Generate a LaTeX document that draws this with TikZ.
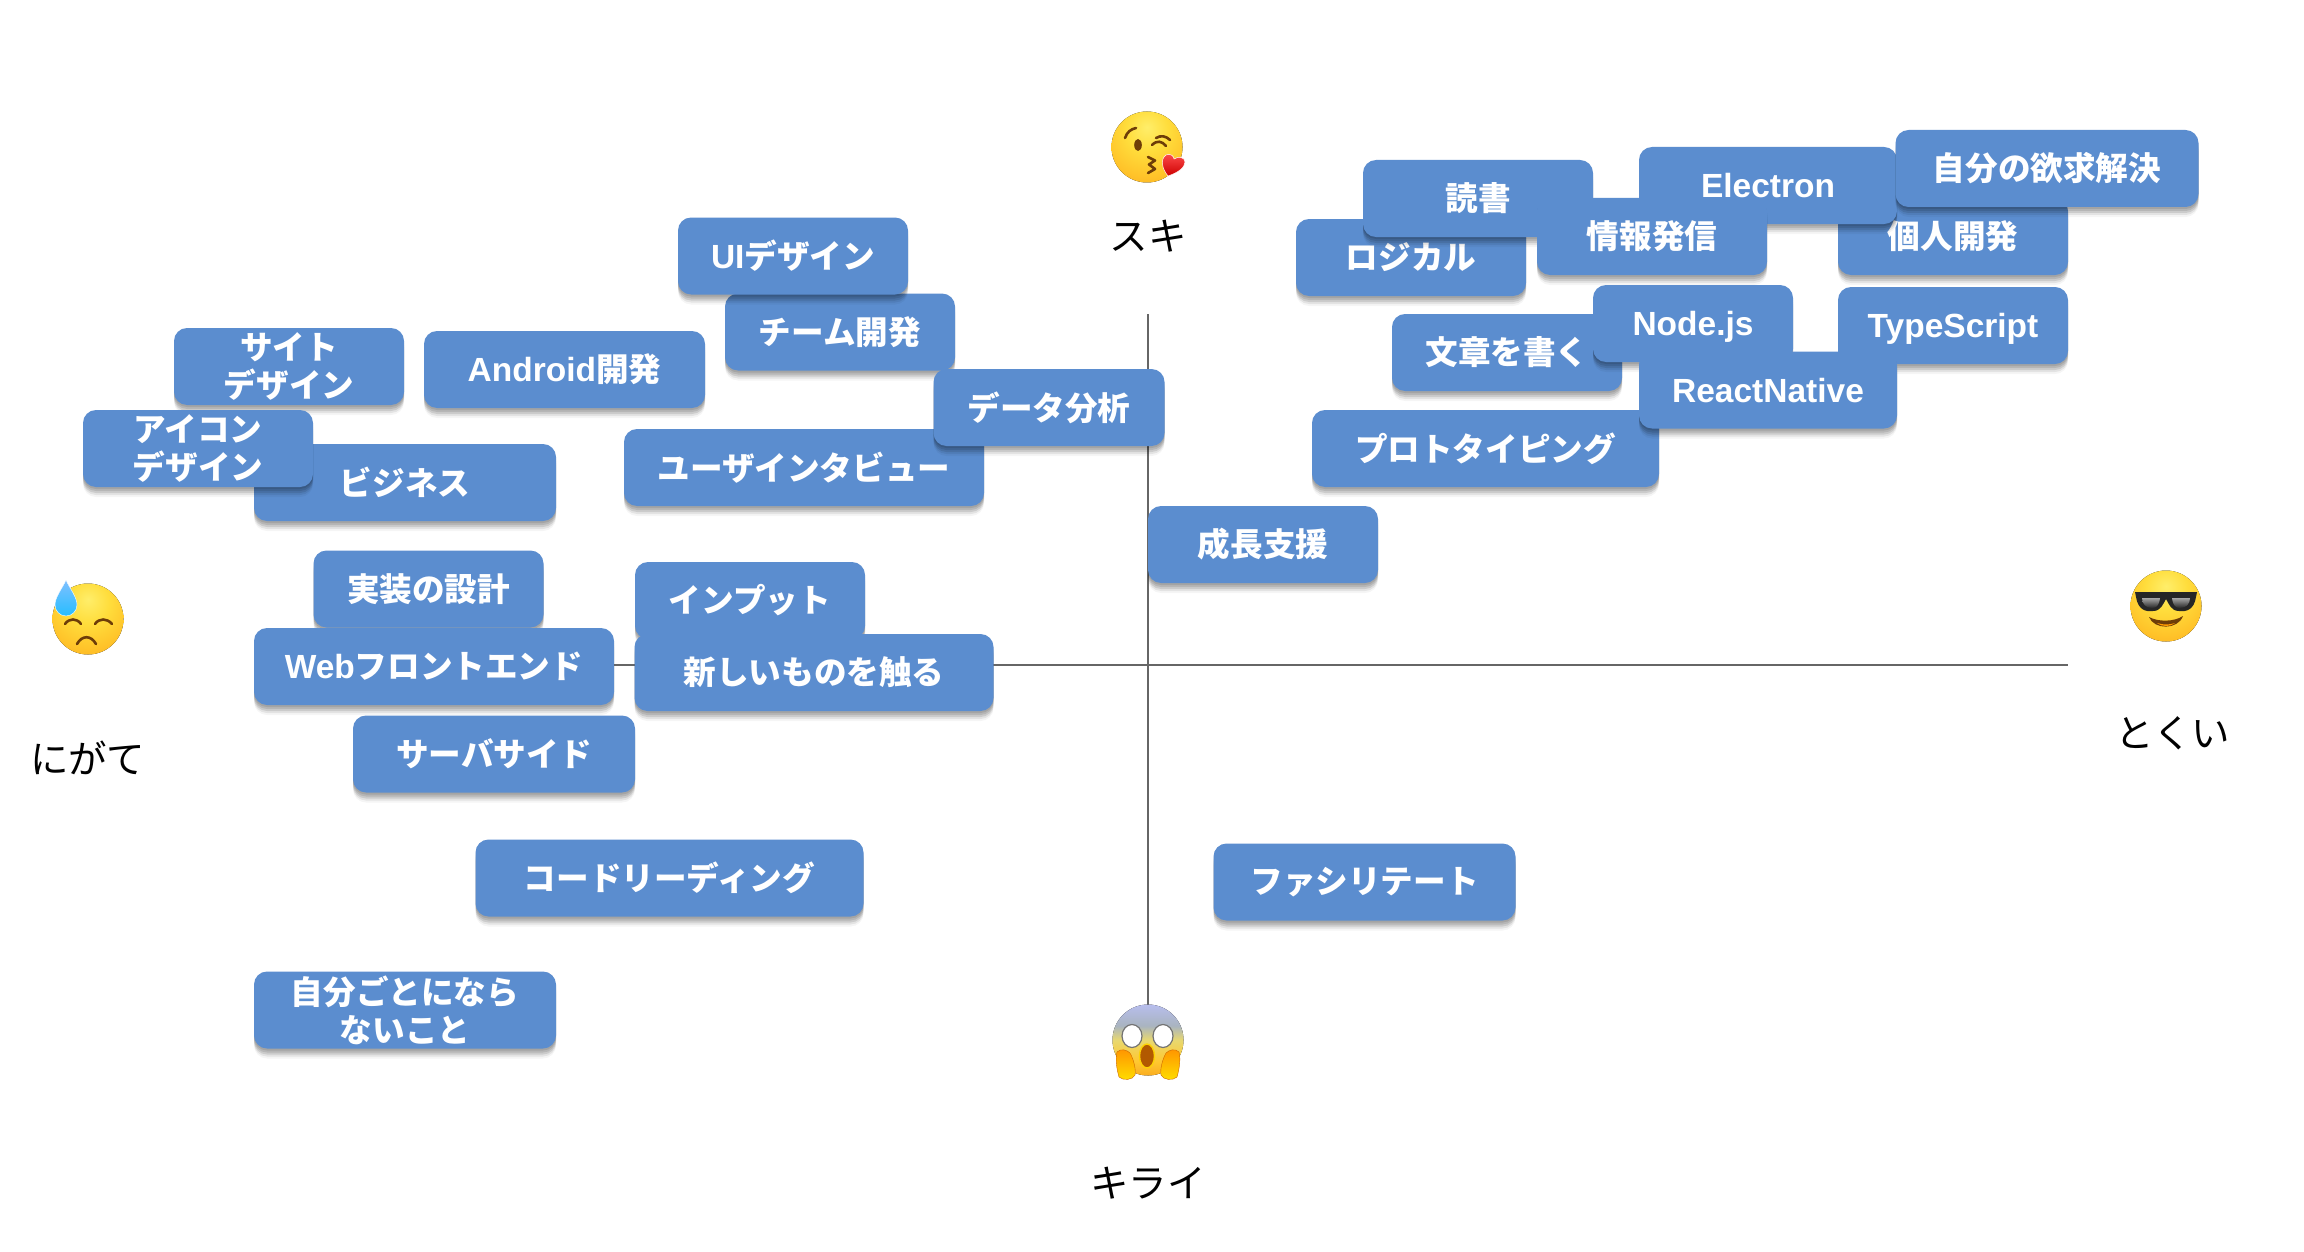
\documentclass[tikz,border=0pt]{standalone}
\usepackage{fontspec}
\usetikzlibrary{shadows}
\newfontfamily\jpfont{Noto Sans CJK JP}
\newfontfamily\latfont{Liberation Sans}
\newcommand{\la}[1]{{\latfont\fontsize{33.5}{38}\selectfont #1}}
\definecolor{cardblue}{HTML}{5B8DCF}
\definecolor{axisgray}{HTML}{666666}
\definecolor{emobrown}{HTML}{6E3D08}
\definecolor{fa}{HTML}{FFEE6A}
\definecolor{fb}{HTML}{FFDD3C}
\definecolor{fc}{HTML}{FFC42A}
\definecolor{fd}{HTML}{FBAE20}
\definecolor{fe}{HTML}{F59A14}
\definecolor{sa}{HTML}{F9A51C}
\definecolor{sb}{HTML}{FFC830}
\definecolor{sc}{HTML}{E8D870}
\definecolor{sd}{HTML}{A9B4C0}
\definecolor{se}{HTML}{B8BEF0}
\definecolor{sf}{HTML}{8FA0F0}
\definecolor{sg}{HTML}{1A6EF0}
\pgfdeclareradialshading{emoface}{\pgfpoint{0bp}{14bp}}{color(0bp)=(fa);color(15bp)=(fb);color(30bp)=(fc);color(42bp)=(fd);color(55bp)=(fe);color(100bp)=(fe)}
\pgfdeclareverticalshading{screamface}{100bp}{color(0bp)=(sa);color(22bp)=(sa);color(35bp)=(sb);color(50bp)=(sc);color(60bp)=(sd);color(76bp)=(se);color(90bp)=(sf);color(96bp)=(sg);color(100bp)=(sg)}
\tikzset{
  card/.style={rectangle,rounded corners=13pt,fill=cardblue,text=white,align=center,
    minimum width=230pt,minimum height=77pt,inner sep=0pt,
    font=\fontsize{32.6}{38}\selectfont\jpfont\bfseries,
    general shadow={shadow xshift=0pt,shadow yshift=-2pt,fill=black,opacity=.10},
    general shadow={shadow xshift=0pt,shadow yshift=-4pt,fill=black,opacity=.10},
    general shadow={shadow xshift=0pt,shadow yshift=-6pt,fill=black,opacity=.10},
    general shadow={shadow xshift=0pt,shadow yshift=-8pt,fill=black,opacity=.07},
    general shadow={shadow xshift=0pt,shadow yshift=-10pt,fill=black,opacity=.04}},
  latcard/.style={card,text height=24pt,text depth=0pt},
  axislabel/.style={text=black,inner sep=0pt,font=\fontsize{38.5}{42}\selectfont\jpfont},
  axisline/.style={draw=axisgray,line width=2.5pt},
  facepart/.style={draw=emobrown,line width=2.6pt,line cap=round,line join=round},
  faceball/.style={shading=emoface,draw=none}
}
\begin{document}
\begin{tikzpicture}[x=1pt,y=-1pt]
\useasboundingbox (0,0) rectangle (2304,1252);
\fill[white] (0,0) rectangle (2304,1252);

% axes
\coordinate (vtop) at (1148,314);
\coordinate (vbot) at (1148,1006);
\coordinate (hleft) at (400,665);
\coordinate (hright) at (2068,665);
\draw[axisline] (vtop) -- (vbot);
\draw[axisline] (hleft) -- (hright);

% emoji: kiss
\begin{scope}[shift={(1147,147)}]
  \fill[faceball] (0,0) circle (35.5);
  \draw[facepart] (-22,-9) .. controls (-20,-15) and (-16,-18) .. (-11,-19);
  \fill[emobrown] (-9,-2) ellipse (3.8 and 6);
  \draw[facepart] (5,-2) .. controls (10,-7) and (15,-6) .. (19,-1);
  \draw[facepart] (9,-9) .. controls (14,-12) and (19,-11) .. (23,-7);
  \draw[facepart] (1,10) -- (8,13.5) -- (2,17.5) -- (8,22) -- (1,26);
  \shade[top color=red!70!white,bottom color=red!80!black,draw=white,line width=.5pt]
    (21,29) .. controls (15,22) and (13,12) .. (19,8)
    .. controls (23,6) and (27,9) .. (27,12)
    .. controls (31,9) and (38,10) .. (38,15)
    .. controls (38,21) and (30,26) .. (21,29) -- cycle;
\end{scope}

% emoji: sunglasses
\begin{scope}[shift={(2166,606)}]
  \fill[faceball] (0,0) circle (35.5);
  \fill[black!85] (-31,-14) -- (31,-14) -- (30,-9)
    .. controls (28,4) and (20,6) .. (13,5)
    .. controls (5,5) and (3,-2) .. (0,-7)
    .. controls (-3,-2) and (-5,5) .. (-13,5)
    .. controls (-20,6) and (-28,4) .. (-30,-9) -- cycle;
  \shade[top color=black!35,bottom color=black!85] (-24,-8) -- (-6,-8) .. controls (-7,0) and (-10,2) .. (-14,2) .. controls (-20,2) and (-24,-2) .. cycle;
  \shade[top color=black!35,bottom color=black!85] (24,-8) -- (6,-8) .. controls (7,0) and (10,2) .. (14,2) .. controls (20,2) and (24,-2) .. cycle;
  \fill[emobrown] (-17,11) .. controls (-8,16) and (8,16) .. (17,10)
    .. controls (12,24) and (-12,24) .. (-17,11) -- cycle;
  \fill[orange!80!yellow] (-9,17) .. controls (-3,19) and (3,19) .. (9,17) .. controls (5,21) and (-5,21) .. (-9,17) -- cycle;
\end{scope}

% emoji: downcast face with sweat
\begin{scope}[shift={(88,619)}]
  \fill[faceball] (0,0) circle (35.5);
  \draw[facepart] (-23,5) .. controls (-19,-1) and (-11,-1) .. (-7,5);
  \draw[facepart] (7,5) .. controls (11,-1) and (19,-1) .. (24,5);
  \draw[facepart] (-11,25) .. controls (-6,16) and (3,16) .. (8,25);
  \shade[top color=cyan!50!blue!50!white,bottom color=cyan!70!blue!85!white,draw=white,line width=.4pt]
    (-22,-39) .. controls (-18,-30) and (-11,-22) .. (-11,-14)
    .. controls (-11,-8) and (-16,-3) .. (-22,-3)
    .. controls (-28,-3) and (-33,-8) .. (-33,-14)
    .. controls (-33,-22) and (-26,-30) .. (-22,-39) -- cycle;
\end{scope}

% emoji: scream
\begin{scope}[shift={(1148,1040)}]
  \fill[shading=screamface] (0,0) circle (35.5);
  \fill[white,draw=black!55,line width=1.2pt] (-16,-4) ellipse (10 and 11.5);
  \fill[white,draw=black!55,line width=1.2pt] (15,-4) ellipse (10 and 11.5);
  \draw[fill=orange!70!black,draw=yellow!70!orange,line width=1.4pt] (-1,16) ellipse (7.5 and 12);
  \shade[top color=orange!85!yellow,bottom color=yellow!75!orange,draw=orange!80!black,line width=.4pt]
    (-31,12) .. controls (-27,8) and (-21,10) .. (-18,13)
    .. controls (-14,20) and (-12,30) .. (-13,35)
    .. controls (-15,40) and (-25,41) .. (-29,37)
    .. controls (-31,30) and (-33,20) .. (-31,12) -- cycle;
  \shade[top color=orange!85!yellow,bottom color=yellow!75!orange,draw=orange!80!black,line width=.4pt]
    (31,12) .. controls (27,8) and (21,10) .. (18,13)
    .. controls (14,20) and (12,30) .. (13,35)
    .. controls (15,40) and (25,41) .. (29,37)
    .. controls (31,30) and (33,20) .. (31,12) -- cycle;
\end{scope}

% axis labels
\node[axislabel] (suki) at (1148,236) {スキ};
\node[axislabel] (kirai) at (1148,1183) {キライ};
\node[axislabel] (nigate) at (88,758) {にがて};
\node[axislabel] (tokui) at (2173,733) {とくい};

% cards, back to front
\node[card] (logical) at (1411,257.5) {ロジカル};
\node[card] (dokusho) at (1478,198.5) {読書};
\node[card] (kojin) at (1953,236.5) {個人開発};
\node[latcard,minimum width=258pt] (electron) at (1768,185.5) {\la{Electron}};
\node[card] (joho) at (1652,236.5) {情報発信};
\node[card,minimum width=303pt] (yokkyu) at (2047,168.5) {自分の欲求解決};
\node[card] (bunsho) at (1507,352.5) {文章を書く};
\node[latcard,minimum width=200pt] (nodejs) at (1693,323.5) {\la{Node.js}};
\node[latcard] (typescript) at (1953,325.5) {\la{TypeScript}};
\node[card,minimum width=347pt] (proto) at (1485.5,448.5) {プロトタイピング};
\node[latcard,minimum width=258pt] (reactnative) at (1768,390) {\la{ReactNative}};
\node[card] (seicho) at (1263,544.5) {成長支援};
\node[card] (team) at (840,332) {チーム開発};
\node[card] (uidesign) at (793,256) {\la{UI}デザイン};
\node[card] (sitedesign) at (289,366.5) {サイト\\デザイン};
\node[card,minimum width=281pt] (android) at (564.5,369.5) {\la{Android}開発};
\node[card,minimum width=302pt] (business) at (405,482.5) {ビジネス};
\node[card] (icondesign) at (198,448.5) {アイコン\\デザイン};
\node[card,minimum width=360pt] (interview) at (804,467.5) {ユーザインタビュー};
\node[card,minimum width=231pt] (data) at (1049,407.5) {データ分析};
\node[card] (jisso) at (428.5,589) {実装の設計};
\node[card,minimum width=360pt] (web) at (434,666.5) {\la{Web}フロントエンド};
\node[card] (input) at (750,600.5) {インプット};
\node[card,minimum width=359pt] (atarashii) at (814,672.5) {新しいものを触る};
\node[card,minimum width=282pt] (server) at (494,754) {サーバサイド};
\node[card,minimum width=388pt] (code) at (669.5,878) {コードリーディング};
\node[card,minimum width=302pt] (facili) at (1364.5,882) {ファシリテート};
\node[card,minimum width=302pt] (jibun) at (405,1010) {自分ごとになら\\ないこと};
\end{tikzpicture}
\end{document}
